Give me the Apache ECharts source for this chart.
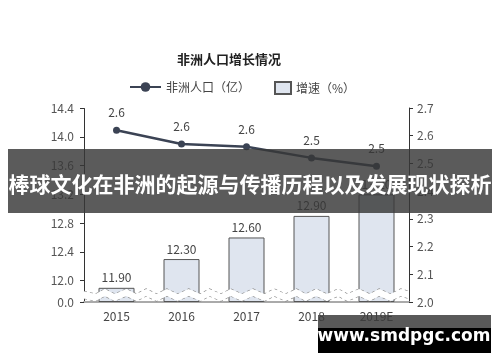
<!DOCTYPE html>
<html>
<head>
<meta charset="utf-8">
<script src="https://cdn.jsdelivr.net/npm/echarts@6/dist/echarts.min.js"></script>
<style>html,body{margin:0;padding:0;background:#fff;}#c{width:500px;height:362px;}</style>
</head>
<body>
<div id="c"></div>
<script>
const categories = ['2015', '2016', '2017', '2018', '2019E'];
const populationValues = [11.90, 12.30, 12.60, 12.90, 13.20];
const growthValues = [2.62, 2.57, 2.56, 2.52, 2.49];
const leftTicks = [0, 12.0, 12.4, 12.8, 13.2, 13.6, 14.0, 14.4];
const rightTicks = [2.0, 2.1, 2.2, 2.3, 2.4, 2.5, 2.6, 2.7];
const titleText = '非洲人口增长情况';
const lineName = '非洲人口（亿）';
const barName = '增速（%）';
const bannerText = '棒球文化在非洲的起源与传播历程以及发展现状探析';
const watermarkText = 'www.smdpgc.com';

const FONT = '"Noto Sans CJK SC", "Noto Sans", sans-serif';
const chart = echarts.init(document.getElementById('c'), null, {renderer: 'canvas'});
chart.setOption({
  animation: false,
  backgroundColor: '#fff',
  textStyle: {fontFamily: FONT},
  title: {
    text: titleText, left: 172, top: 48,
    textStyle: {fontSize: 13, fontWeight: 'bold', color: '#222', fontFamily: FONT}
  },
  legend: [
    {data: [lineName], left: 124, top: 76, itemWidth: 31, itemHeight: 12, itemGap: 10,
     textStyle: {fontSize: 12, color: '#444'}},
    {data: [{name: barName, icon: 'rect'}], left: 269, top: 76, itemWidth: 16, itemHeight: 12,
     textStyle: {fontSize: 12, color: '#444'}}
  ],
  grid: {left: 84, right: 91, top: 108, bottom: 60},
  xAxis: {
    type: 'category', data: categories,
    axisLine: {lineStyle: {color: '#aaa', width: 2}},
    axisTick: {show: false},
    axisLabel: {color: '#444', fontSize: 12, margin: 8}
  },
  yAxis: [
    {
      type: 'value', min: 0, max: 14.4,
      breaks: [{start: 0.05, end: 11.85, gap: '3.6%'}],
      breakArea: {show: true, itemStyle: {color: '#fff', borderColor: '#888', borderWidth: 1.2, opacity: 1},
                  zigzagAmplitude: 2.5, zigzagMinSpan: 9, zigzagMaxSpan: 12, expandOnClick: false},
      axisLine: {show: true, lineStyle: {color: '#333', width: 1}},
      axisTick: {show: true, length: 4, lineStyle: {color: '#333'}, customValues: leftTicks},
      axisLabel: {customValues: leftTicks, formatter: v => Number(v).toFixed(1), color: '#555', fontSize: 12, margin: 10},
      splitLine: {show: false}
    },
    {
      type: 'value', min: 2.0, max: 2.7, interval: 0.1, position: 'right',
      axisLine: {show: true, lineStyle: {color: '#333', width: 1}},
      axisTick: {show: true, length: 4, lineStyle: {color: '#333'}},
      axisLabel: {formatter: v => Number(v).toFixed(1), color: '#555', fontSize: 12, margin: 8},
      splitLine: {show: false}
    }
  ],
  series: [
    {
      name: lineName, type: 'line', yAxisIndex: 1, data: growthValues, z: 5,
      symbol: 'circle', symbolSize: 7,
      lineStyle: {color: '#3b4354', width: 2.5},
      itemStyle: {color: '#3b4354'},
      label: {show: true, position: 'top', distance: 8, color: '#444', fontSize: 12,
              formatter: p => p.value.toFixed(1)}
    },
    {
      name: barName, type: 'bar', yAxisIndex: 0, data: populationValues, barWidth: 36,
      itemStyle: {color: '#dfe5ef', borderColor: '#555', borderWidth: 1},
      label: {show: true, position: 'top', distance: 4, color: '#444', fontSize: 12,
              formatter: p => p.value.toFixed(2)}
    }
  ],
  graphic: [
    {type: 'rect', z: 100, shape: {x: 8, y: 149, width: 484, height: 64}, style: {fill: 'rgba(55,55,55,0.82)'}},
    {type: 'text', z: 101, x: 250, y: 184, style: {text: bannerText, fill: '#fff', align: 'center', verticalAlign: 'middle',
      font: 'bold 21px "Noto Sans CJK SC", sans-serif'}},
    {type: 'rect', z: 100, shape: {x: 318, y: 315, width: 173, height: 13}, style: {fill: 'rgba(60,60,60,0.85)'}},
    {type: 'rect', z: 100, shape: {x: 318, y: 328, width: 173, height: 25}, style: {fill: '#000'}},
    {type: 'text', z: 101, x: 404, y: 337, style: {text: watermarkText, fill: '#fff', align: 'center', verticalAlign: 'middle',
      font: 'bold 17px "DejaVu Sans", sans-serif'}}
  ]
});
</script>
</body>
</html>
